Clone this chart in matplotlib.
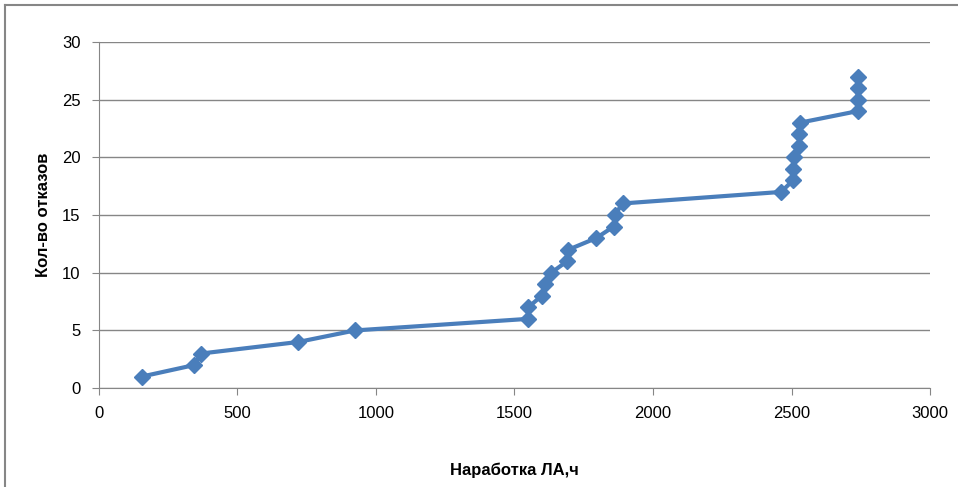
import matplotlib
matplotlib.use("Agg")
import matplotlib.pyplot as plt
from matplotlib.lines import Line2D

hours = [155, 345, 370, 720, 925, 1548, 1550, 1598, 1612, 1633, 1690, 1695,
         1795, 1858, 1862, 1890, 2462, 2505, 2505, 2508, 2528, 2528, 2530,
         2738, 2738, 2738, 2738]
failures = list(range(1, 28))
x_ticks = [0, 500, 1000, 1500, 2000, 2500, 3000]
y_ticks = [0, 5, 10, 15, 20, 25, 30]

plt.rcParams['font.family'] = ['Liberation Sans', 'DejaVu Sans']

fig = plt.figure(figsize=(9.58, 4.87), dpi=100)
ax = fig.add_axes([0.103, 0.203, 0.868, 0.711])

ax.plot(hours, failures, color='#4a7ebb', linewidth=3, marker='D',
        markersize=8, markerfacecolor='#4a7ebb', markeredgecolor='#4a7ebb',
        solid_joinstyle='round')

ax.set_xlim(0, 3000)
ax.set_ylim(0, 30)
ax.set_xticks(x_ticks)
ax.set_yticks(y_ticks)
ax.tick_params(axis='both', direction='out', length=5, color='#868686',
               labelsize=12, pad=8)
ax.yaxis.grid(True, color='#868686', linewidth=1)
ax.set_axisbelow(True)
for s in ['top', 'right']:
    ax.spines[s].set_visible(False)
for s in ['left', 'bottom']:
    ax.spines[s].set_color('#868686')

ax.set_xlabel('Наработка ЛА,ч', fontsize=12, fontweight='bold', labelpad=30)
ax.set_ylabel('Кол-во отказов', fontsize=12, fontweight='bold', labelpad=8)

# figure border (left and top edges visible)
fig.add_artist(Line2D([5/958, 5/958], [0, 1-5/487], transform=fig.transFigure,
                      color='#868686', linewidth=1.5))
fig.add_artist(Line2D([5/958, 1], [1-5/487, 1-5/487], transform=fig.transFigure,
                      color='#868686', linewidth=1.5))

fig.savefig('out.png', dpi=100)
